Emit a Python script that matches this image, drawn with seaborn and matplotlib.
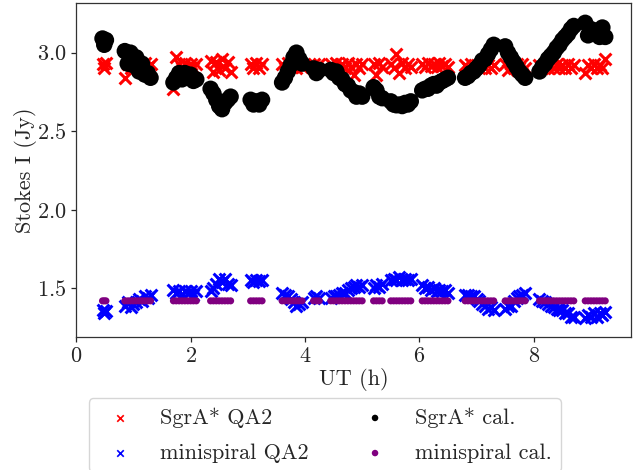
import matplotlib
matplotlib.use("Agg")
import matplotlib.pyplot as plt
import seaborn as sns
import pandas as pd

# Observation times (UT, hours), grouped by scan
ut = [
    0.46, 0.49, 0.52,
    0.85, 0.90, 0.95, 1.00, 1.05, 1.10, 1.15, 1.20, 1.25, 1.30,
    1.70, 1.75, 1.80, 1.85, 1.90, 1.95, 2.00, 2.05, 2.10,
    2.35, 2.40, 2.45, 2.50, 2.55, 2.60, 2.65, 2.70,
    3.05, 3.10, 3.15, 3.20, 3.25,
    3.60, 3.65, 3.70, 3.75, 3.80, 3.85, 3.90, 3.95,
    4.15, 4.20, 4.25,
    4.45, 4.50, 4.55, 4.60, 4.65, 4.70, 4.75, 4.80, 4.85, 4.90, 4.95, 5.00,
    5.20, 5.25, 5.30, 5.35,
    5.50, 5.55, 5.60, 5.65, 5.70, 5.75, 5.80, 5.85,
    6.05, 6.10, 6.15, 6.20, 6.25, 6.30, 6.35, 6.40, 6.45, 6.50,
    6.80, 6.85, 6.90, 6.95, 7.00, 7.05, 7.10, 7.15, 7.20, 7.25, 7.30,
    7.50, 7.55, 7.60, 7.65, 7.70, 7.75, 7.80, 7.85,
    8.10, 8.15, 8.20, 8.25, 8.30, 8.35, 8.40, 8.45, 8.50, 8.55, 8.60, 8.65, 8.70,
    8.90, 8.95, 9.00, 9.05, 9.10, 9.15, 9.20, 9.25,
]

# Stokes I (Jy), SgrA* from the QA2 products
sgra_qa2 = [
    2.93, 2.90, 2.935,
    2.84, 2.93, 2.905, 2.935, 2.91, 2.93, 2.90, 2.935, 2.91, 2.93,
    2.77, 2.97, 2.93, 2.905, 2.935, 2.91, 2.93, 2.90, 2.93,
    2.95, 2.88, 2.94, 2.89, 2.96, 2.90, 2.94, 2.88,
    2.93, 2.905, 2.935, 2.90, 2.93,
    2.93, 2.905, 2.935, 2.91, 2.93, 2.90, 2.935, 2.91,
    2.93, 2.905, 2.93,
    2.93, 2.905, 2.935, 2.91, 2.93, 2.90, 2.935, 2.91, 2.86, 2.93, 2.90, 2.93,
    2.93, 2.855, 2.935, 2.91,
    2.93, 2.90, 2.99, 2.87, 2.935, 2.90, 2.93, 2.91,
    2.93, 2.91, 2.935, 2.915, 2.93, 2.91, 2.935, 2.915, 2.93, 2.91,
    2.92, 2.90, 2.925, 2.905, 2.92, 2.90, 2.925, 2.905, 2.92, 2.90, 2.92,
    2.925, 2.89, 2.93, 2.90, 2.925, 2.905, 2.93, 2.90,
    2.92, 2.90, 2.925, 2.905, 2.92, 2.90, 2.925, 2.905, 2.92, 2.90, 2.925, 2.905, 2.92,
    2.87, 2.92, 2.90, 2.925, 2.905, 2.92, 2.90, 2.96,
]

# Stokes I (Jy), minispiral from the QA2 products
mini_qa2 = [
    1.36, 1.34, 1.355,
    1.39, 1.41, 1.38, 1.40, 1.41, 1.43, 1.42, 1.45, 1.44, 1.46,
    1.49, 1.47, 1.48, 1.46, 1.48, 1.47, 1.48, 1.46, 1.48,
    1.48, 1.50, 1.53, 1.56, 1.54, 1.56, 1.53, 1.52,
    1.55, 1.54, 1.555, 1.545, 1.55,
    1.47, 1.46, 1.45, 1.43, 1.41, 1.39, 1.40, 1.41,
    1.44, 1.45, 1.44,
    1.44, 1.45, 1.45, 1.46, 1.47, 1.47, 1.49, 1.50, 1.51, 1.52, 1.51, 1.52,
    1.50, 1.52, 1.51, 1.53,
    1.55, 1.56, 1.55, 1.57, 1.55, 1.56, 1.55, 1.56,
    1.52, 1.50, 1.51, 1.49, 1.50, 1.48, 1.49, 1.48, 1.49, 1.47,
    1.46, 1.46, 1.45, 1.45, 1.43, 1.42, 1.40, 1.39, 1.37, 1.38, 1.36,
    1.37, 1.39, 1.39, 1.42, 1.44, 1.45, 1.46, 1.47,
    1.43, 1.42, 1.41, 1.40, 1.39, 1.38, 1.37, 1.36, 1.36, 1.34, 1.34, 1.32, 1.32,
    1.31, 1.33, 1.32, 1.34, 1.32, 1.34, 1.33, 1.35,
]

# Stokes I (Jy), SgrA* after self-calibration
sgra_cal = [
    3.09, 3.05, 3.08,
    3.01, 2.93, 3.00, 2.92, 2.97, 2.88, 2.93, 2.86, 2.87, 2.84,
    2.81, 2.84, 2.87, 2.83, 2.87, 2.84, 2.86, 2.82, 2.83,
    2.77, 2.74, 2.70, 2.66, 2.64, 2.68, 2.70, 2.72,
    2.70, 2.67, 2.69, 2.67, 2.70,
    2.81, 2.84, 2.88, 2.92, 2.97, 3.00, 2.96, 2.93,
    2.90, 2.87, 2.89,
    2.89, 2.87, 2.88, 2.84, 2.83, 2.80, 2.79, 2.76, 2.75, 2.72, 2.74, 2.72,
    2.78, 2.76, 2.72, 2.71,
    2.69, 2.67, 2.665, 2.67, 2.66, 2.68, 2.67, 2.69,
    2.76, 2.77, 2.77, 2.79, 2.80, 2.79, 2.81, 2.82, 2.83, 2.84,
    2.84, 2.85, 2.87, 2.88, 2.90, 2.92, 2.95, 2.96, 2.99, 3.02, 3.05,
    3.04, 3.00, 2.97, 2.94, 2.91, 2.88, 2.86, 2.84,
    2.88, 2.91, 2.93, 2.96, 2.98, 3.00, 3.03, 3.05, 3.08, 3.10, 3.12, 3.15, 3.17,
    3.19, 3.11, 3.15, 3.12, 3.14, 3.10, 3.16, 3.10,
]

# Stokes I (Jy), minispiral after self-calibration
mini_cal = [
    1.42, 1.42, 1.42,
    1.42, 1.42, 1.42, 1.42, 1.42, 1.42, 1.42, 1.42, 1.42, 1.42,
    1.42, 1.42, 1.42, 1.42, 1.42, 1.42, 1.42, 1.42, 1.42,
    1.42, 1.42, 1.42, 1.42, 1.42, 1.42, 1.42, 1.42,
    1.42, 1.42, 1.42, 1.42, 1.42,
    1.42, 1.42, 1.42, 1.42, 1.42, 1.42, 1.42, 1.42,
    1.42, 1.42, 1.42,
    1.42, 1.42, 1.42, 1.42, 1.42, 1.42, 1.42, 1.42, 1.42, 1.42, 1.42, 1.42,
    1.42, 1.42, 1.42, 1.42,
    1.42, 1.42, 1.42, 1.42, 1.42, 1.42, 1.42, 1.42,
    1.42, 1.42, 1.42, 1.42, 1.42, 1.42, 1.42, 1.42, 1.42, 1.42,
    1.42, 1.42, 1.42, 1.42, 1.42, 1.42, 1.42, 1.42, 1.42, 1.42, 1.42,
    1.42, 1.42, 1.42, 1.42, 1.42, 1.42, 1.42, 1.42,
    1.42, 1.42, 1.42, 1.42, 1.42, 1.42, 1.42, 1.42, 1.42, 1.42, 1.42, 1.42, 1.42,
    1.42, 1.42, 1.42, 1.42, 1.42, 1.42, 1.42, 1.42,
]

series_labels = ["SgrA* QA2", "minispiral QA2", "SgrA* cal.", "minispiral cal."]
x_ticks = [0, 2, 4, 6, 8]
y_ticks = [1.5, 2.0, 2.5, 3.0]

sns.set_theme(style="ticks", context="notebook", rc={
    "axes.edgecolor": "0.2",
    "axes.linewidth": 0.9,
    "xtick.major.size": 3.5,
    "ytick.major.size": 3.5,
    "xtick.major.width": 0.9,
    "ytick.major.width": 0.9,
})
plt.rcParams["font.family"] = ["cmr10", "DejaVu Serif"]
plt.rcParams["mathtext.fontset"] = "cm"
plt.rcParams["axes.formatter.use_mathtext"] = True
plt.rcParams["axes.unicode_minus"] = False

df = pd.DataFrame({
    "ut": ut,
    "sgra_qa2": sgra_qa2,
    "mini_qa2": mini_qa2,
    "sgra_cal": sgra_cal,
    "mini_cal": mini_cal,
})

fig = plt.figure(figsize=(6.43, 4.70), dpi=100)
ax = fig.add_axes([0.1185, 0.283, 0.8628, 0.7106])

sns.scatterplot(data=df, x="ut", y="sgra_qa2", marker="x", color="red",
                s=72, linewidth=2.2, label=series_labels[0], ax=ax)
sns.scatterplot(data=df, x="ut", y="mini_qa2", marker="x", color="blue",
                s=72, linewidth=2.2, label=series_labels[1], ax=ax)
sns.scatterplot(data=df, x="ut", y="sgra_cal", marker="o", color="black",
                s=140, linewidth=0, edgecolor="none", label=series_labels[2], ax=ax)
sns.scatterplot(data=df, x="ut", y="mini_cal", marker="o", color="purple",
                s=26, linewidth=0, edgecolor="none", label=series_labels[3], ax=ax)

if ax.get_legend() is not None:
    ax.get_legend().remove()

ax.set_xlim(0, 9.70)
ax.set_ylim(1.19, 3.316)
ax.set_xticks(x_ticks)
ax.set_yticks(y_ticks)
ax.tick_params(labelsize=16)
ax.set_xlabel("UT (h)", fontsize=16, labelpad=1)
ax.set_ylabel("Stokes I (Jy)", fontsize=16, labelpad=0)

handles, labels = ax.get_legend_handles_labels()
leg = fig.legend(handles, labels, ncol=2, loc="upper center",
                 bbox_to_anchor=(0.505, 0.176), fontsize=16, frameon=True,
                 labelspacing=0.7)
for h in leg.legend_handles:
    h.set_sizes([22])
    h.set_linewidths([1.2])

fig.savefig("out.png", dpi=100)
